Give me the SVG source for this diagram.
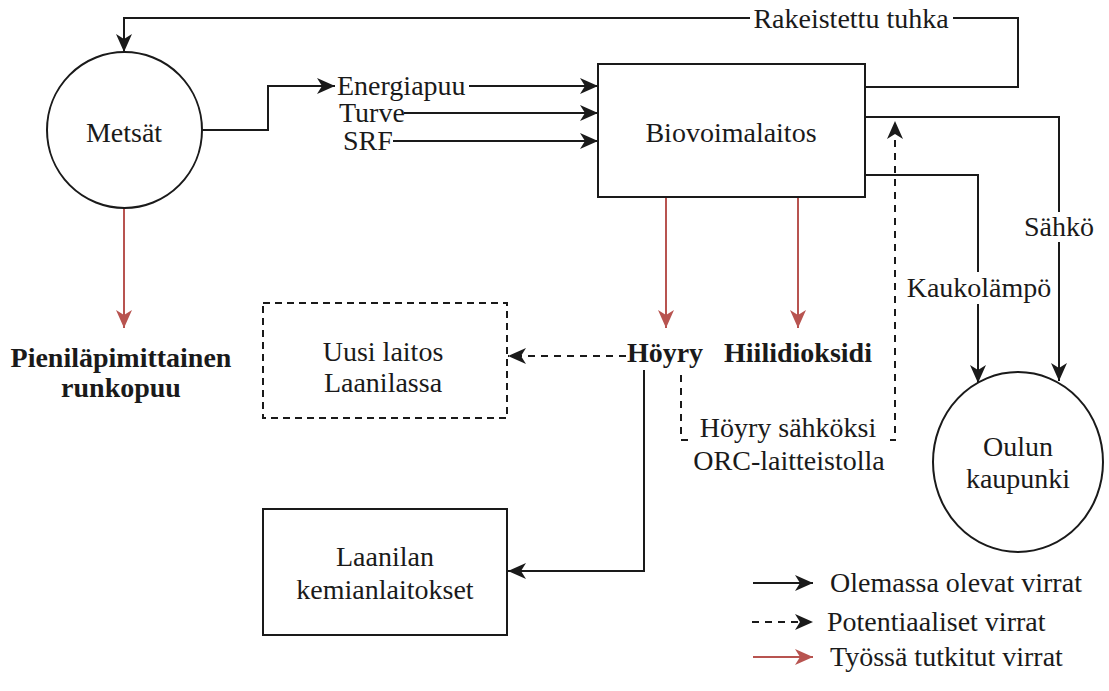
<svg xmlns="http://www.w3.org/2000/svg" width="1109" height="691" viewBox="0 0 1109 691">
  <style>
    .bg { fill: #ffffff; }
    .node { fill: #ffffff; stroke: #1a1a1a; stroke-width: 2; }
    .dnode { fill: #ffffff; stroke: #1a1a1a; stroke-width: 2; stroke-dasharray: 7 5; }
    .edge { fill: none; stroke: #1a1a1a; stroke-width: 2; }
    .dash { fill: none; stroke: #1a1a1a; stroke-width: 2; stroke-dasharray: 7 6; }
    .red { fill: none; stroke: #b85450; stroke-width: 2; }
    text { font-size: 28px; fill: #1a1a1a; text-anchor: middle; }
    .s { text-anchor: start; }
    .b { font-weight: bold; }
    .lbl { fill: #ffffff; stroke: none; }
  </style>
  <defs>
    <marker id="arr" markerUnits="userSpaceOnUse" markerWidth="20" markerHeight="18" refX="18" refY="8" orient="auto">
      <path d="M0,0 L18,8 L0,16 L5,8 Z" fill="#1a1a1a"/>
    </marker>
    <marker id="arrRed" markerUnits="userSpaceOnUse" markerWidth="20" markerHeight="18" refX="18" refY="8" orient="auto">
      <path d="M0,0 L18,8 L0,16 L5,8 Z" fill="#b85450"/>
    </marker>
  </defs>

  <rect class="bg" x="0" y="0" width="1109" height="691"/>

  <g font-family="Times New Roman, Tinos, Liberation Serif, Noto Serif, FreeSerif, serif">
  <!-- connectors -->
  <g id="connectors">
    <path class="edge" d="M865,87 H1018 V18 H124 V52" marker-end="url(#arr)"/>
    <path class="edge" d="M202,130 H268 V86 H335" marker-end="url(#arr)"/>
    <path class="edge" d="M469,86 H598" marker-end="url(#arr)"/>
    <path class="edge" d="M404,113 H598" marker-end="url(#arr)"/>
    <path class="edge" d="M393,141 H598" marker-end="url(#arr)"/>
    <path class="edge" d="M865,117 H1059 V381" marker-end="url(#arr)"/>
    <path class="edge" d="M865,175 H978 V383" marker-end="url(#arr)"/>
    <path class="edge" d="M644,370 V571 H508" marker-end="url(#arr)"/>
    <path class="dash" d="M626,356 H508" marker-end="url(#arr)"/>
    <path class="dash" d="M681,375 V440 H895 V121" marker-end="url(#arr)"/>
    <path class="red" d="M124,208 V328" marker-end="url(#arrRed)"/>
    <path class="red" d="M666,197 V328" marker-end="url(#arrRed)"/>
    <path class="red" d="M798,197 V328" marker-end="url(#arrRed)"/>

    <!-- edge labels -->
    <rect class="lbl" x="750" y="8" width="203" height="24"/>
    <text x="851" y="28">Rakeistettu tuhka</text>
    <rect class="lbl" x="1025" y="212" width="70" height="30"/>
    <text x="1059" y="236">Sähkö</text>
    <rect class="lbl" x="905" y="272" width="148" height="32"/>
    <text x="979" y="297">Kaukolämpö</text>
    <rect class="lbl" x="690" y="416" width="200" height="62"/>
    <text x="788" y="437">Höyry sähköksi</text>
    <text x="789" y="470">ORC-laitteistolla</text>
  </g>

  <g id="metsat">
    <ellipse class="node" cx="124.5" cy="130" rx="77.5" ry="78"/>
    <text x="124" y="142">Metsät</text>
  </g>

  <g id="energiapuu">
    <text class="s" x="337" y="95">Energiapuu</text>
  </g>
  <g id="turve">
    <text class="s" x="339" y="122">Turve</text>
  </g>
  <g id="srf">
    <text class="s" x="343" y="150">SRF</text>
  </g>

  <g id="biovoimalaitos">
    <rect class="node" x="598" y="64" width="267" height="133"/>
    <text x="731" y="142">Biovoimalaitos</text>
  </g>

  <g id="runkopuu">
    <text class="b" x="121" y="367">Pieniläpimittainen</text>
    <text class="b" x="121" y="397">runkopuu</text>
  </g>

  <g id="uusi-laitos">
    <rect class="dnode" x="263" y="303" width="244" height="115"/>
    <text x="383" y="361">Uusi laitos</text>
    <text x="383" y="392">Laanilassa</text>
  </g>

  <g id="hoyry">
    <text class="b" x="665" y="362">Höyry</text>
  </g>

  <g id="hiilidioksidi">
    <text class="b" x="798" y="362">Hiilidioksidi</text>
  </g>

  <g id="oulun-kaupunki">
    <ellipse class="node" cx="1018" cy="462" rx="85" ry="90"/>
    <text x="1018" y="456">Oulun</text>
    <text x="1018" y="488">kaupunki</text>
  </g>

  <g id="laanilan-kemianlaitokset">
    <rect class="node" x="263" y="509" width="244" height="126"/>
    <text x="385" y="566">Laanilan</text>
    <text x="385" y="599">kemianlaitokset</text>
  </g>

  <g id="legend">
    <path class="edge" d="M753,583 H813" marker-end="url(#arr)"/>
    <text class="s" x="830" y="592">Olemassa olevat virrat</text>
    <path class="dash" d="M752,622 H813" marker-end="url(#arr)"/>
    <text class="s" x="827" y="631">Potentiaaliset virrat</text>
    <path class="red" d="M753,657 H813" marker-end="url(#arrRed)"/>
    <text class="s" x="830" y="666">Työssä tutkitut virrat</text>
  </g>
  </g>
</svg>
